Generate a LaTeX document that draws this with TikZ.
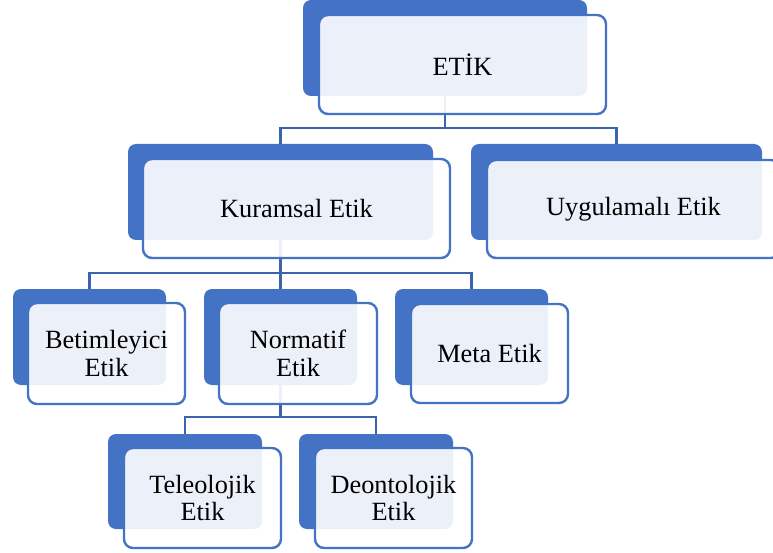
\documentclass[tikz,border=0pt]{standalone}
\usepackage{fontspec}
\setmainfont{Liberation Serif}
\definecolor{boxblue}{HTML}{4472C4}
\definecolor{linkblue}{HTML}{3B64AE}
\begin{document}
\begin{tikzpicture}[x=1pt,y=-1pt,
  backbox/.style={fill=boxblue, draw=none, rounded corners=8pt, inner sep=0pt},
  frontbox/.style={draw=boxblue, line width=2.4pt, fill=white, fill opacity=0.9,
    text opacity=1, rounded corners=9pt, inner sep=0pt, align=center,
    font=\fontsize{26.3}{27.5}\selectfont},
  link/.style={draw=linkblue, line width=2.2pt}]
\useasboundingbox (0,0) rectangle (773,553);

% back (solid) boxes
\node[backbox, minimum width=284pt, minimum height=96pt] (etikB) at (445,48) {};
\node[backbox, minimum width=305pt, minimum height=96pt] (kurB) at (280.5,192) {};
\node[backbox, minimum width=291pt, minimum height=96pt] (uygB) at (616.5,192) {};
\node[backbox, minimum width=153pt, minimum height=96pt] (betB) at (89.5,337) {};
\node[backbox, minimum width=153pt, minimum height=96pt] (norB) at (280.5,337) {};
\node[backbox, minimum width=153pt, minimum height=96pt] (metB) at (471.5,337) {};
\node[backbox, minimum width=154pt, minimum height=95pt] (telB) at (185,481.5) {};
\node[backbox, minimum width=154pt, minimum height=95pt] (deoB) at (376,481.5) {};

% bus levels of the tree
\coordinate (bus1) at (0,128);
\coordinate (bus2) at (0,273);
\coordinate (bus3) at (0,417);

% connectors
\draw[link] (etikB.south) -- (etikB.south |- bus1) -| (kurB.north);
\draw[link] (etikB.south) -- (etikB.south |- bus1) -| (uygB.north);
\draw[link] (kurB.south) -- (kurB.south |- bus2) -| (betB.north);
\draw[link] (kurB.south) -- (kurB.south |- bus2) -| (norB.north);
\draw[link] (kurB.south) -- (kurB.south |- bus2) -| (metB.north);
\draw[link] (norB.south) -- (norB.south |- bus3) -| (telB.north);
\draw[link] (norB.south) -- (norB.south |- bus3) -| (deoB.north);

% front (translucent) boxes with the labels
\node[frontbox, minimum width=287pt, minimum height=99pt] (etik) at (462.5,64.5) {ETİK};
\node[frontbox, minimum width=307pt, minimum height=99pt] (kur) at (296.5,208.5) {Kuramsal Etik};
\node[frontbox, minimum width=293pt, minimum height=98pt] (uyg) at (633.5,209) {Uygulamalı Etik};
\node[frontbox, minimum width=157pt, minimum height=101pt] (bet) at (106.5,353.5) {Betimleyici\\Etik};
\node[frontbox, minimum width=158pt, minimum height=101pt] (nor) at (298,353.5) {Normatif\\Etik};
\node[frontbox, minimum width=157pt, minimum height=99pt] (met) at (489.5,353.5) {Meta Etik};
\node[frontbox, minimum width=157pt, minimum height=100pt] (tel) at (202.5,498) {Teleolojik\\Etik};
\node[frontbox, minimum width=157pt, minimum height=100pt] (deo) at (393.5,498) {Deontolojik\\Etik};
\end{tikzpicture}
\end{document}
